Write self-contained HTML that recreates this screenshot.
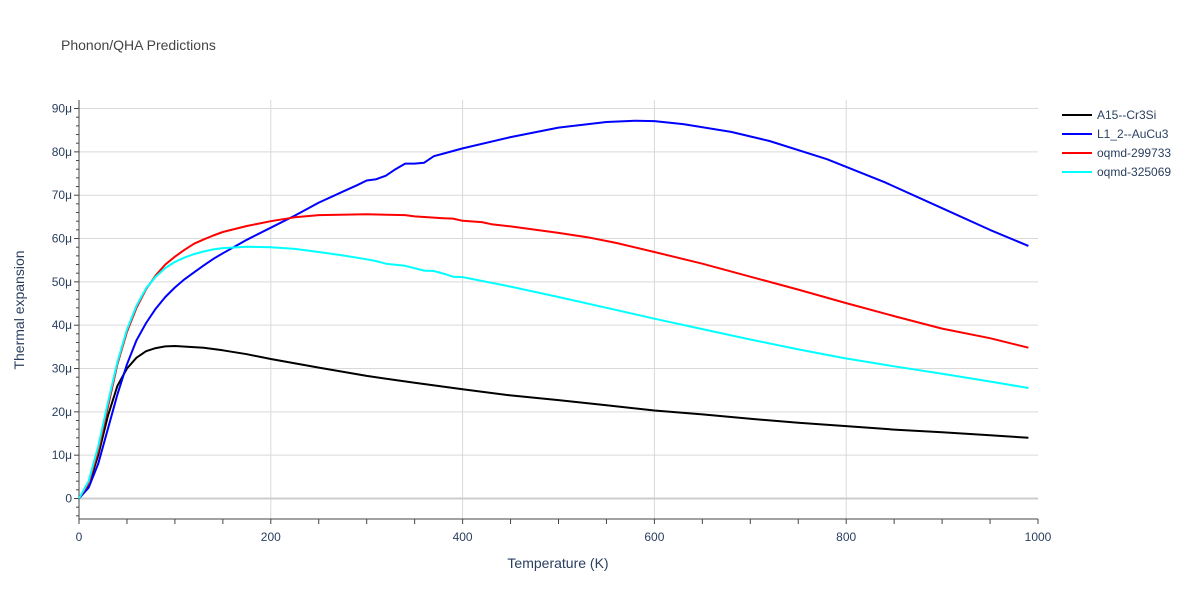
<!DOCTYPE html>
<html><head><meta charset="utf-8"><style>
body{margin:0;background:#fff;font-family:"Liberation Sans",sans-serif}
text{font-family:"Liberation Sans",sans-serif}
</style></head><body>
<svg id="chart" width="1200" height="600" xmlns="http://www.w3.org/2000/svg">
<text x="61" y="50" font-size="14" fill="#444">Phonon/QHA Predictions</text>
<g id="grid"></g>
<g id="axes"></g>
<g id="series"></g>
<g id="legend"></g>
<text x="558" y="568" text-anchor="middle" font-size="14" fill="#2a3f5f">Temperature (K)</text>
<text transform="translate(24,310) rotate(-90)" text-anchor="middle" font-size="14" fill="#2a3f5f">Thermal expansion</text>
</svg>
<script>
const seriesNames=["A15--Cr3Si","L1_2--AuCu3","oqmd-299733","oqmd-325069"];
const seriesColors=["#000000","#0000ff","#ff0000","#00ffff"];
const xTicks=[0,200,400,600,800,1000];
const yTicks=[0,10,20,30,40,50,60,70,80,90];
const blackT=[0,10,20,30,40,50,60,70,80,90,100,130,150,175,200,250,300,350,400,450,500,550,600,650,700,750,800,850,900,950,990];
const blackV=[0,3,10,19,26,30,32.5,34,34.7,35.1,35.2,34.8,34.2,33.3,32.2,30.2,28.3,26.7,25.2,23.8,22.7,21.5,20.3,19.4,18.4,17.5,16.7,15.9,15.3,14.6,14.0];
const blueT=[0,10,20,30,40,50,60,70,80,90,100,110,120,130,140,150,175,200,225,250,275,290,300,310,320,330,340,350,360,370,380,400,450,500,550,580,600,630,680,720,780,840,900,950,990];
const blueV=[0,2.5,8,16,24,31,36.5,40.5,43.8,46.5,48.7,50.6,52.2,53.8,55.3,56.6,59.7,62.5,65.3,68.3,70.8,72.3,73.4,73.7,74.5,76,77.3,77.3,77.5,79,79.6,80.8,83.4,85.6,86.9,87.2,87.1,86.4,84.6,82.5,78.3,73,67,62,58.3];
const redT=[0,10,20,30,40,50,60,70,80,90,100,110,120,130,140,150,175,200,225,250,300,340,350,380,390,400,420,430,450,500,530,560,600,650,700,750,800,850,900,950,990];
const redV=[0,3.5,11,21,31,38.5,44,48.3,51.5,54,55.8,57.4,58.8,59.8,60.7,61.5,62.9,64,64.9,65.4,65.6,65.4,65.1,64.7,64.6,64.1,63.8,63.3,62.8,61.3,60.3,59,56.9,54.2,51.2,48.2,45.1,42.1,39.2,37,34.8];
const cyanT=[0,10,20,30,40,50,60,70,80,90,100,110,120,130,140,150,175,200,225,250,275,300,310,320,340,360,370,380,390,400,450,500,550,600,650,700,750,800,850,900,950,990];
const cyanV=[0,4,12,22,31.5,39,44.5,48.5,51.2,53.2,54.6,55.6,56.4,57,57.5,57.8,58.1,58,57.6,56.9,56.1,55.2,54.8,54.2,53.7,52.6,52.5,51.9,51.2,51.1,48.9,46.5,44,41.5,39.1,36.7,34.4,32.3,30.5,28.8,27,25.5];
const X0=79,X1=1038,YT=100,YB=519,Y0=498.5,YS=4.333;
const xs=v=>X0+(X1-X0)*v/1000, ys=v=>Y0-v*YS;
const NS="http://www.w3.org/2000/svg";
function mk(p,t,a){const e=document.createElementNS(NS,t);for(const k in a)e.setAttribute(k,a[k]);p.appendChild(e);return e;}
const grid=document.getElementById('grid'),axes=document.getElementById('axes'),ser=document.getElementById('series'),leg=document.getElementById('legend');
xTicks.forEach(t=>{if(t>0&&t<1000){const l=mk(grid,'line',{x1:xs(t),x2:xs(t),y1:YT,y2:YB,stroke:'#d9d9d9'});

}
const tx=mk(axes,'text',{x:xs(t),y:541,'text-anchor':'middle','font-size':12,fill:'#2a3f5f'});tx.textContent=t;

});
for(let t=0;t<=1000;t+=50){mk(axes,'line',{x1:xs(t),x2:xs(t),y1:YB,y2:YB+5,stroke:'#444'});}
yTicks.forEach(t=>{const l=mk(grid,'line',{x1:X0,x2:X1,y1:ys(t),y2:ys(t),stroke:t==0?'#cccccc':'#d9d9d9','stroke-width':t==0?2:1});


const tx=mk(axes,'text',{x:72,y:ys(t)+4,'text-anchor':'end','font-size':12,fill:'#2a3f5f'});tx.textContent=t==0?'0':t+'μ';

});
for(let t=-4;t<=90;t+=2){mk(axes,'line',{x1:X0-(t%10==0?5:3),x2:X0,y1:ys(t),y2:ys(t),stroke:'#444'});}
mk(axes,'line',{x1:X0,x2:X0,y1:YT,y2:YB,stroke:'#444'});
mk(axes,'line',{x1:X0,x2:X1,y1:YB,y2:YB,stroke:'#444'});
const data=[[blackT,blackV],[blueT,blueV],[redT,redV],[cyanT,cyanV]];
data.forEach((d,i)=>{const pts=d[0].map((t,j)=>xs(t).toFixed(1)+','+ys(d[1][j]).toFixed(1)).join(' ');
const p=mk(ser,'polyline',{points:pts,fill:'none',stroke:seriesColors[i],'stroke-width':2,'stroke-linejoin':'round'});


const g=mk(leg,'g',{});


const y=115+i*19;
mk(g,'line',{x1:1062,x2:1092,y1:y,y2:y,stroke:seriesColors[i],'stroke-width':2});
const tx=mk(g,'text',{x:1097,y:y+4,'font-size':12,fill:'#2a3f5f'});tx.textContent=seriesNames[i];});
</script>
</body></html>
